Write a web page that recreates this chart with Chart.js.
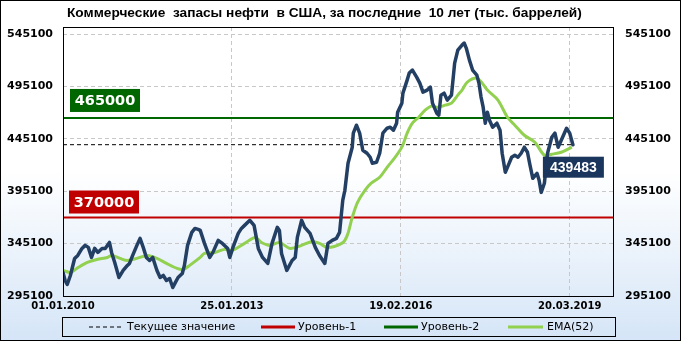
<!DOCTYPE html>
<html>
<head>
<meta charset="utf-8">
<script src="https://cdn.jsdelivr.net/npm/chart.js@4.4.1/dist/chart.umd.min.js"></script>
<style>
  html, body { margin: 0; padding: 0; background: #fff; }
  #wrap { width: 681px; height: 341px; }
</style>
</head>
<body>
<div id="wrap"><canvas id="oilChart" width="681" height="341"></canvas></div>
<script>
// данные (недели от 01.01.2010, тыс. баррелей)
const title = 'Коммерческие  запасы нефти  в США, за последние  10 лет (тыс. баррелей)';

const weeks = [0, 2, 4, 7, 11, 14, 18, 21, 24, 27, 30, 33, 37, 40, 44, 46, 49, 53, 57, 61,
  63, 66, 70, 73, 76, 79, 82, 85, 89, 92, 95, 98, 101, 104, 106, 109, 113, 115, 118, 122,
  125, 128, 130, 134, 139, 142, 147, 151, 156, 158, 161, 166, 169, 172, 177, 181, 185, 189, 194, 198,
  203, 205, 207, 212, 217, 220, 222, 226, 229, 234, 239, 243, 248, 251, 255, 259, 262, 265, 267, 270,
  274, 275, 278, 281, 284, 288, 291, 293, 297, 300, 303, 307, 310, 313, 316, 317, 321, 322, 326, 328,
  331, 335, 338, 341, 345, 348, 350, 354, 356, 358, 361, 364, 368, 371, 374, 378, 380, 382, 385, 388,
  392, 394, 396, 398, 400, 402, 404, 407, 411, 414, 416, 419, 421, 425, 428, 431, 434, 437, 440, 442,
  445, 449, 451, 453, 456, 459, 463, 466, 469, 472, 477, 480, 483];

const stocks = [317600, 309900, 306100, 314700, 330900, 333800, 340500, 343400, 341500, 331900,
  340500, 336700, 340500, 340500, 346200, 336700, 327100, 312800, 319500, 324300,
  326200, 333800, 343400, 350100, 341500, 331900, 329000, 331900, 319500, 312800,
  314700, 309900, 311800, 303200, 307100, 312800, 316600, 324300, 343400, 355800,
  359600, 358700, 357700, 345300, 331900, 336700, 348200, 345300, 340500, 331900,
  341500, 354900, 359600, 362500, 367300, 362500, 340500, 331900, 326200, 345300,
  360600, 357700, 335700, 319500, 329000, 331900, 351000, 367300, 360600, 354900,
  341500, 333800, 326200, 345300, 348200, 350100, 355800, 386400, 396000, 421800,
  437100, 450500, 458100, 450500, 434200, 431300, 427500, 421800, 422700, 431300,
  450500, 455200, 456200, 453300, 460000, 470500, 479100, 488700, 501100, 507800,
  510700, 504000, 498300, 489600, 491600, 494400, 479100, 469600, 467700, 486800,
  488700, 482000, 486800, 517400, 529800, 534600, 536500, 531700, 520200, 510700,
  505900, 498300, 484900, 475300, 460000, 470500, 462900, 456200, 460000, 453300,
  431300, 413200, 417900, 427500, 429400, 427500, 431300, 437100, 432300, 421800,
  407400, 412200, 405500, 394000, 402700, 431300, 446600, 450500, 437100, 443800,
  455200, 450500, 439483];

const emaWeeks = [0, 7, 13, 23, 32, 42, 46, 54, 61, 70, 80, 89, 98, 108, 114, 120, 130, 134, 144, 153,
  160, 172, 182, 188, 196, 205, 215, 226, 236, 243, 250, 257, 264, 267, 270, 274, 279, 286, 292, 300,
  307, 314, 321, 326, 331, 337, 343, 349, 355, 362, 368, 374, 378, 383, 392, 397, 402, 412, 421, 428,
  437, 447, 456, 463, 472, 482];

const ema52 = [319500, 317600, 321400, 327100, 330000, 331900, 333800, 331000, 329000, 331000,
  333800, 331000, 326200, 321400, 320400, 324300, 331900, 335700, 336700, 339600,
  338600, 345300, 351000, 346200, 343400, 346200, 340500, 343400, 347200, 345300,
  341500, 342400, 345300, 348200, 354900, 370100, 384500, 396000, 402700, 408400,
  417900, 426600, 437100, 450500, 460000, 465700, 472400, 476300, 475300, 477200,
  479100, 486800, 491600, 499200, 503000, 498300, 491600, 482000, 465700, 458100,
  448500, 441800, 429400, 430400, 432300, 437100];

const level1 = 370000;
const level2 = 465000;
const current = 439483;
const lastWeek = 483;
const axisEndWeek = 521;

const xTickWeeks = [0, 160, 320, 480];
const xTickLabels = ['01.01.2010', '25.01.2013', '19.02.2016', '20.03.2019'];
const yTicks = [295100, 345100, 395100, 445100, 495100, 545100];
const yMin = 295100, yMax = 551800;

const seriesNames = ['Текущее значение', 'Уровень-1', 'Уровень-2', 'EMA(52)'];

const toPoints = (xs, ys) => xs.map((x, i) => ({ x: x, y: ys[i] }));

// фон, рамки, заголовок, подписи уровней и легенда
const decor = {
    id: 'decor',
    beforeDraw(chart) {
        const c = chart.ctx, w = chart.width, h = chart.height;
        const g = c.createLinearGradient(0, 0, 0, h);
        g.addColorStop(0, '#ffffff');
        g.addColorStop(0.5, '#ffffff');
        g.addColorStop(1, '#d5e5f7');
        c.save();
        c.fillStyle = g;
        c.fillRect(0, 0, w, h);
        c.restore();
    },
    afterDatasetsDraw(chart) {
        const c = chart.ctx, a = chart.chartArea;
        const xs = chart.scales.x, ys = chart.scales.y;
        c.save();
        // рамка области графика
        c.strokeStyle = '#000';
        c.lineWidth = 1;
        c.strokeRect(Math.round(a.left) + 0.5, Math.round(a.top) + 0.5, Math.round(a.right - a.left), Math.round(a.bottom - a.top));

        const tag = (text, x, y, w, h, bg, font) => {
            c.fillStyle = bg;
            c.fillRect(x, y, w, h);
            c.fillStyle = '#fff';
            c.font = font;
            c.textAlign = 'center';
            c.textBaseline = 'middle';
            c.fillText(text, x + w / 2, y + h / 2 + 1);
        };
        tag(String(level2), a.left + 7, ys.getPixelForValue(level2) - 29, 70, 23, '#006600', 'bold 14.5px "DejaVu Sans"');
        tag(String(level1), a.left + 6, ys.getPixelForValue(level1) - 27, 70, 23, '#c00000', 'bold 14.5px "DejaVu Sans"');
        tag(String(current), xs.getPixelForValue(lastWeek) - 30, ys.getPixelForValue(current) + 12, 61, 21, '#1b365d', 'bold 14px "Liberation Sans"');
        c.restore();
    },
    afterDraw(chart) {
        const c = chart.ctx, w = chart.width, h = chart.height;
        c.save();
        c.strokeStyle = '#000';
        c.lineWidth = 1;
        c.strokeRect(0.5, 0.5, w - 1, h - 1);

        c.fillStyle = '#000';
        c.font = 'bold 13.7px "Liberation Sans"';
        c.textAlign = 'left';
        c.textBaseline = 'middle';
        c.fillText(title, 67, 13);

        // легенда
        c.strokeRect(62.5, 317.5, 553, 19);
        const ly = 327;
        const items = [
            { x1: 89, x2: 121, tx: 127, color: '#000', width: 1, dash: [4, 3] },
            { x1: 261, x2: 295, tx: 298, color: '#c00000', width: 3, dash: [] },
            { x1: 384, x2: 418, tx: 421, color: '#006600', width: 3, dash: [] },
            { x1: 508, x2: 543, tx: 547, color: '#92d050', width: 3, dash: [] }
        ];
        c.font = '11px "DejaVu Sans"';
        items.forEach((it, i) => {
            c.beginPath();
            c.setLineDash(it.dash);
            c.strokeStyle = it.color;
            c.lineWidth = it.width;
            c.moveTo(it.x1, ly);
            c.lineTo(it.x2, ly);
            c.stroke();
            c.setLineDash([]);
            c.fillStyle = '#000';
            c.fillText(seriesNames[i], it.tx, ly);
        });
        c.restore();
    }
};

const gridOpts = { color: '#c8c8c8', lineWidth: 1, drawTicks: false };

new Chart(document.getElementById('oilChart'), {
    type: 'line',
    data: {
        datasets: [
            { label: 'Запасы', data: toPoints(weeks, stocks), borderColor: '#233f63', borderWidth: 3.5, pointRadius: 0, tension: 0, borderJoinStyle: 'round', borderCapStyle: 'round' },
            { label: seriesNames[3], data: toPoints(emaWeeks, ema52), borderColor: '#92d050', borderWidth: 3, pointRadius: 0, tension: 0.3, borderJoinStyle: 'round' },
            { label: seriesNames[0], data: toPoints([0, lastWeek], [current, current]), borderColor: '#000', borderWidth: 1, borderDash: [4, 3], pointRadius: 0 },
            { label: seriesNames[2], data: toPoints([0, axisEndWeek], [level2, level2]), borderColor: '#006600', borderWidth: 2, pointRadius: 0 },
            { label: seriesNames[1], data: toPoints([0, axisEndWeek], [level1, level1]), borderColor: '#c00000', borderWidth: 2, pointRadius: 0 }
        ]
    },
    options: {
        responsive: false,
        animation: false,
        devicePixelRatio: 1,
        layout: { padding: { top: 27, left: 0, right: 0, bottom: 0 } },
        plugins: { legend: { display: false }, title: { display: false }, tooltip: { enabled: false } },
        scales: {
            x: {
                type: 'linear', min: 0, max: axisEndWeek,
                afterBuildTicks: s => { s.ticks = xTickWeeks.map(v => ({ value: v })); },
                afterFit: s => { s.height = 45; },
                ticks: {
                    padding: 4, maxRotation: 0, autoSkip: false, color: '#000',
                    font: { family: 'DejaVu Sans', size: 10, weight: 'bold' },
                    callback: v => xTickLabels[xTickWeeks.indexOf(v)]
                },
                grid: gridOpts,
                border: { display: false, dash: [4, 3] }
            },
            y: {
                position: 'left', min: yMin, max: yMax,
                afterBuildTicks: s => { s.ticks = yTicks.map(v => ({ value: v })); },
                afterFit: s => { s.width = 63; },
                ticks: { padding: 10, color: '#000', font: { family: 'DejaVu Sans', size: 11, weight: 'bold' }, callback: v => String(v) },
                grid: gridOpts,
                border: { display: false, dash: [4, 3] }
            },
            y2: {
                position: 'right', min: yMin, max: yMax,
                afterBuildTicks: s => { s.ticks = yTicks.map(v => ({ value: v })); },
                afterFit: s => { s.width = 68; },
                ticks: { padding: 12, color: '#000', font: { family: 'DejaVu Sans', size: 11, weight: 'bold' }, callback: v => String(v) },
                grid: { drawOnChartArea: false, drawTicks: false },
                border: { display: false }
            }
        }
    },
    plugins: [decor]
});
</script>
</body>
</html>
